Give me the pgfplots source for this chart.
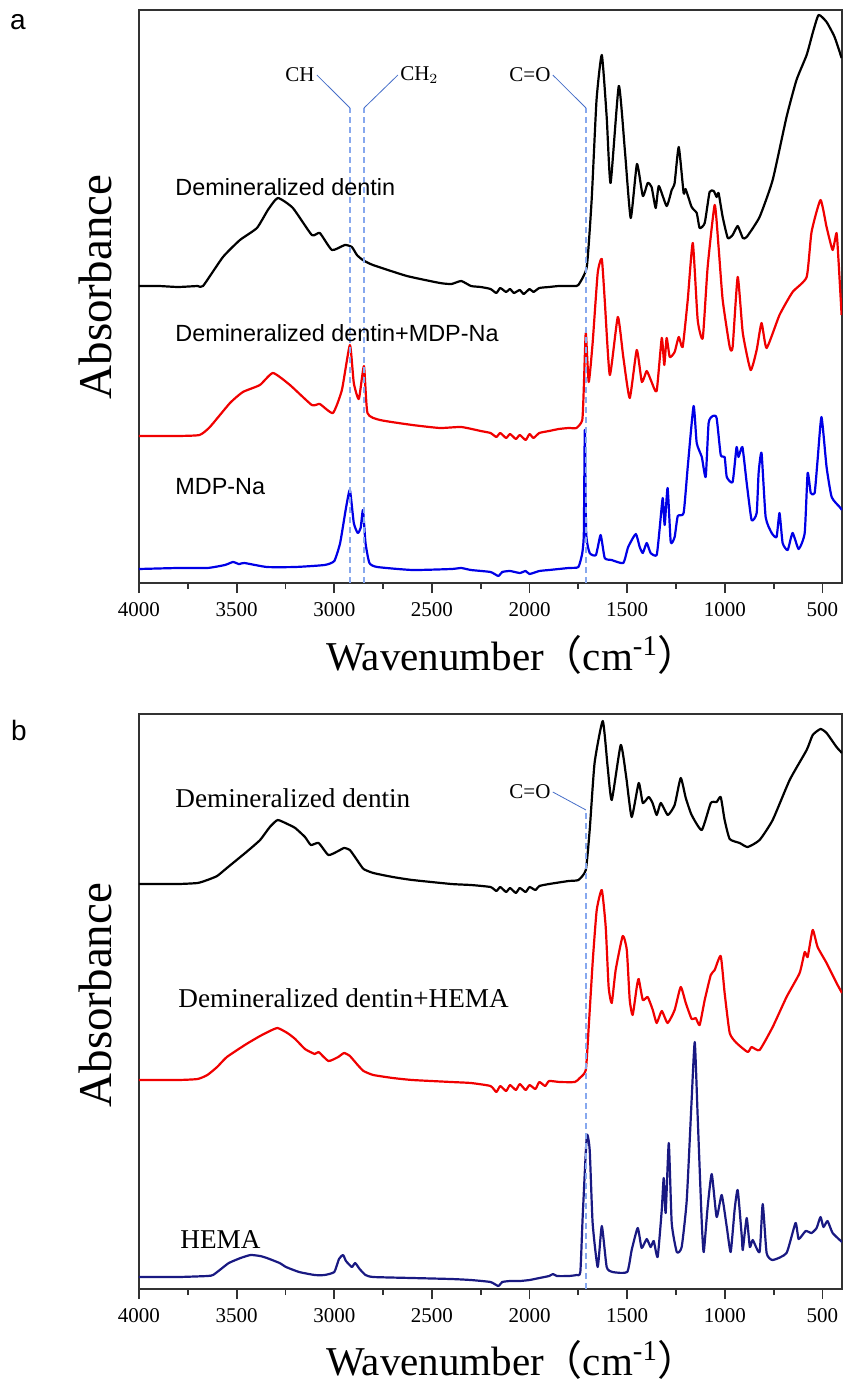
\documentclass[border=0pt]{standalone}
\usepackage{fontspec}
\setmainfont{Liberation Serif}
\newfontfamily\arial{Liberation Sans}
\newfontfamily\cjk{Noto Sans CJK SC}
\usepackage{pgfplots}
\pgfplotsset{compat=1.18}

\definecolor{specred}{RGB}{240,0,0}
\definecolor{specblue}{RGB}{0,0,230}
\definecolor{specnavy}{RGB}{25,25,130}
\definecolor{guide}{RGB}{135,168,238}
\definecolor{connector}{RGB}{70,110,200}
\definecolor{frame}{RGB}{50,50,50}

\pgfplotsset{
  spec/.style={
    scale only axis, width=351.5pt,
    x dir=reverse, xmin=400, xmax=4000,
    xtick={500,1000,...,4000}, minor x tick num=1,
    xtick pos=left, ytick=\empty,
    tick align=outside,
    major tick length=5pt, minor tick length=3pt,
    axis line style={line width=1pt, frame},
    every tick/.style={frame, line width=0.9pt},
    xticklabel style={font=\fontsize{10.5}{12}\selectfont, yshift=-1pt},
    /pgf/number format/.cd, 1000 sep={}, assume math mode=true,
  },
  curve/.style={line width=1.1pt, line join=round, smooth, tension=0.3},
}
\tikzset{band/.style={draw=guide, line width=0.9pt, dash pattern=on 3pt off 2pt}}

\begin{document}
\begin{tikzpicture}
\path[use as bounding box] (0,0) rectangle (421.5pt,-692pt);

% panel a
\begin{axis}[spec, height=286.5pt, ymin=0, ymax=573,
  at={(69.5pt,-291.5pt)}, anchor=south west]
\addplot[curve, black] coordinates {
(4000,297) (3900,297) (3800,296) (3700,297) (3672,297) (3570,326) (3483,343)
(3396,355) (3340,373) (3289,385) (3212,375) (3115,348) (3074,350) (3012,333)
(2946,338) (2910,336) (2884,328) (2854,323) (2802,318) (2628,307) (2459,300)
(2400,299) (2350,302) (2300,297) (2250,296) (2200,294) (2170,290) (2150,295)
(2120,291) (2100,294) (2080,290) (2050,293) (2030,289) (2000,294) (1980,291)
(1950,295) (1900,296) (1850,297) (1800,297) (1770,297) (1750,298) (1707,316)
(1682,383) (1657,483) (1630,528) (1605,466) (1585,400) (1543,497) (1512,433)
(1482,365) (1450,419) (1420,387) (1395,400) (1375,396) (1354,375) (1338,397)
(1298,377) (1272,393) (1257,400) (1236,436) (1211,390) (1201,394) (1170,376)
(1144,370) (1129,355) (1103,360) (1078,391) (1057,392) (1042,386) (1032,390)
(1011,366) (985,345) (960,348) (934,357) (908,345) (888,346) (822,366)
(755,403) (684,466) (633,503) (581,528) (550,550) (520,568) (479,561)
(438,546) (402,525)
};
\addplot[curve, specred] coordinates {
(4000,147) (3900,147) (3800,147) (3690,148) (3637,156) (3534,180) (3468,191)
(3381,198) (3314,210) (3227,198) (3115,178) (3074,179) (3007,170) (2961,193)
(2920,238) (2900,200) (2874,184) (2848,217) (2830,170) (2766,163) (2600,158)
(2459,155) (2350,156) (2250,152) (2200,150) (2170,146) (2150,150) (2120,145)
(2100,149) (2070,144) (2050,148) (2020,143) (2000,149) (1980,145) (1950,150)
(1900,152) (1850,154) (1800,155) (1760,155) (1730,163) (1722,196) (1712,250)
(1697,201) (1677,240) (1651,310) (1630,324) (1615,283) (1589,208) (1548,266)
(1520,226) (1487,185) (1451,233) (1425,201) (1400,212) (1375,201) (1349,192)
(1323,245) (1310,218) (1298,245) (1282,226) (1257,231) (1236,246) (1216,236)
(1190,283) (1164,340) (1139,263) (1113,245) (1088,316) (1052,378) (1032,336)
(1011,283) (975,236) (960,236) (934,306) (908,250) (868,213) (837,233)
(812,260) (786,235) (720,268) (653,291) (581,306) (556,351) (510,383)
(479,356) (448,333) (428,350) (418,323) (402,268)
};
\addplot[curve, specblue] coordinates {
(4000,14) (3800,15) (3650,15) (3560,18) (3519,21) (3490,19) (3484,19)
(3460,20) (3345,16) (3200,16) (3050,18) (3000,22) (2970,40) (2940,75)
(2920,93) (2900,60) (2880,50) (2865,55) (2853,73) (2840,40) (2820,20)
(2780,16) (2600,13) (2400,14) (2350,15) (2300,13) (2200,11) (2160,7)
(2140,11) (2100,12) (2050,10) (2020,12) (2000,9) (1950,12) (1900,13)
(1800,15) (1750,16) (1730,30) (1722,50) (1717,153) (1710,50) (1692,30)
(1660,28) (1636,48) (1615,25) (1580,23) (1520,20) (1495,36) (1456,49)
(1436,36) (1420,30) (1400,40) (1380,30) (1349,28) (1333,56) (1318,85)
(1308,58) (1293,95) (1277,41) (1257,46) (1241,67) (1211,70) (1190,116)
(1160,177) (1144,140) (1118,126) (1098,106) (1083,160) (1062,167) (1042,165)
(1021,128) (1001,126) (990,106) (960,101) (940,136) (930,126) (910,136)
(888,100) (863,63) (837,70) (827,110) (812,130) (791,66) (760,50)
(735,46) (720,70) (704,40) (678,33) (653,50) (622,34) (591,50)
(576,110) (560,90) (540,90) (525,123) (505,166) (479,116) (453,86)
(412,76) (400,73)
};
% band guides
\draw[band] (2919.5,0) -- (2919.5,475);
\draw[band] (2847.8,0) -- (2847.8,475);
\draw[band] (1711,0) -- (1711,475);
\draw[connector, line width=0.4pt] (3089,508) -- (2919.5,475);
\draw[connector, line width=0.4pt] (2674,508) -- (2847.8,475);
\draw[connector, line width=0.4pt] (1881,508) -- (1711,475);
\node[anchor=east, inner sep=0pt, font=\fontsize{10.5}{12}\selectfont] at (3099,508) {CH};
\node[anchor=west, inner sep=0pt, font=\fontsize{10.5}{12}\selectfont] at (2664,508) {CH$_2$};
\node[anchor=east, inner sep=0pt, font=\fontsize{10.5}{12}\selectfont] at (1891,508) {C=O};
\end{axis}

% panel b
\begin{axis}[spec, height=287.5pt, ymin=0, ymax=575,
  at={(69.5pt,-644.5pt)}, anchor=south west]
\addplot[curve, black] coordinates {
(4000,405) (3800,405) (3700,406) (3650,409) (3600,413) (3550,421) (3450,437)
(3380,449) (3330,462) (3290,469) (3240,465) (3200,461) (3150,452) (3120,444)
(3080,446) (3030,434) (2980,438) (2950,441) (2920,439) (2880,428) (2850,420)
(2800,416) (2700,412) (2600,409) (2400,405) (2300,404) (2200,402) (2170,398)
(2150,402) (2120,397) (2100,401) (2070,396) (2050,401) (2020,397) (2000,402)
(1970,399) (1950,403) (1900,405) (1800,408) (1750,409) (1712,419) (1692,459)
(1667,526) (1625,568) (1600,522) (1579,489) (1533,544) (1505,512) (1477,472)
(1441,506) (1420,486) (1390,492) (1370,486) (1349,474) (1328,486) (1292,474)
(1257,484) (1226,511) (1200,491) (1170,474) (1118,459) (1072,486) (1042,487)
(1021,492) (1001,469) (975,450) (924,446) (883,442) (822,449) (755,469)
(668,509) (581,539) (550,554) (510,560) (479,556) (428,542) (400,536)
};
\addplot[curve, specred] coordinates {
(4000,209) (3800,209) (3700,210) (3650,214) (3600,222) (3550,232) (3450,245)
(3380,253) (3330,258) (3290,261) (3240,256) (3200,250) (3150,240) (3100,235)
(3080,237) (3030,228) (2980,232) (2950,236) (2920,233) (2880,224) (2850,218)
(2800,214) (2700,211) (2600,209) (2400,207) (2300,206) (2200,203) (2170,197)
(2150,203) (2120,198) (2100,204) (2070,199) (2050,205) (2020,199) (2000,204)
(1970,200) (1950,207) (1920,203) (1900,208) (1845,207) (1768,207) (1743,211)
(1712,219) (1697,262) (1676,329) (1656,379) (1630,399) (1610,362) (1595,302)
(1579,286) (1559,319) (1523,353) (1502,339) (1487,289) (1472,274) (1451,302)
(1441,310) (1420,289) (1395,292) (1369,279) (1349,266) (1323,278) (1293,266)
(1257,279) (1226,302) (1200,286) (1170,270) (1149,271) (1129,264) (1103,289)
(1072,314) (1052,319) (1021,333) (1001,296) (975,256) (940,246) (883,237)
(863,242) (822,239) (755,262) (684,292) (617,316) (591,337) (576,332)
(550,359) (525,342) (479,326) (428,306) (400,296)
};
\addplot[curve, specnavy] coordinates {
(4000,12) (3800,12) (3650,13) (3621,14) (3580,20) (3540,26) (3480,31)
(3429,34) (3380,33) (3345,31) (3280,26) (3247,22) (3180,17) (3100,14)
(3050,14) (3000,17) (2976,30) (2955,34) (2940,28) (2910,22) (2893,26)
(2870,20) (2840,14) (2800,12) (2600,11) (2400,10) (2300,9) (2200,7)
(2160,3) (2140,7) (2100,8) (2050,8) (2000,9) (1950,11) (1900,13)
(1880,15) (1860,13) (1800,13) (1760,14) (1740,17) (1728,72) (1707,153)
(1692,139) (1677,66) (1651,22) (1630,63) (1605,22) (1575,17) (1500,17)
(1477,39) (1446,61) (1426,41) (1400,50) (1380,42) (1364,48) (1344,32)
(1323,79) (1313,111) (1303,76) (1287,146) (1272,66) (1246,37) (1221,42)
(1195,89) (1170,189) (1154,247) (1139,172) (1118,66) (1108,37) (1088,82)
(1067,115) (1042,72) (1016,94) (990,62) (970,37) (950,79) (934,99)
(913,52) (908,39) (888,71) (872,42) (857,49) (822,37) (806,85)
(786,36) (755,29) (684,36) (638,66) (622,50) (586,58) (556,56)
(530,61) (510,72) (495,62) (474,68) (448,56) (400,47)
};
\draw[band] (1711,0) -- (1711,479);
\draw[connector, line width=0.4pt] (1881,497) -- (1711,479);
\node[anchor=east, inner sep=0pt, font=\fontsize{10.5}{12}\selectfont] at (1891,497) {C=O};
\end{axis}

% curve labels
\begin{scope}[every node/.style={anchor=west, inner sep=0pt}]
\node[font=\arial\fontsize{11.7}{14}\selectfont] at (87.5pt,-93.5pt) {Demineralized dentin};
\node[font=\arial\fontsize{11.7}{14}\selectfont] at (87.5pt,-166.5pt) {Demineralized dentin+MDP-Na};
\node[font=\arial\fontsize{11.7}{14}\selectfont] at (87.5pt,-243.5pt) {MDP-Na};
\node[font=\fontsize{13.6}{16}\selectfont] at (87.5pt,-399pt) {Demineralized dentin};
\node[font=\fontsize{13.6}{16}\selectfont] at (89pt,-499pt) {Demineralized dentin+HEMA};
\node[font=\fontsize{13.6}{16}\selectfont] at (90pt,-620pt) {HEMA};
\node[font=\fontsize{20.5}{24}\selectfont] at (163pt,-327.5pt) {Wavenumber\kern-0.05em{\cjk （}cm\textsuperscript{-1}{\cjk ）}};
\node[font=\fontsize{20.5}{24}\selectfont] at (163pt,-680pt) {Wavenumber\kern-0.05em{\cjk （}cm\textsuperscript{-1}{\cjk ）}};
\end{scope}

% axis titles and panel letters
\node[rotate=90, font=\fontsize{23.5}{26}\selectfont] at (47.5pt,-143.5pt) {Absorbance};
\node[rotate=90, font=\fontsize{23.5}{26}\selectfont] at (47.5pt,-497.5pt) {Absorbance};
\node[font=\arial\fontsize{14}{16}\selectfont] at (9pt,-11pt) {a};
\node[font=\arial\fontsize{14}{16}\selectfont] at (9.5pt,-365pt) {b};
\end{tikzpicture}
\end{document}
